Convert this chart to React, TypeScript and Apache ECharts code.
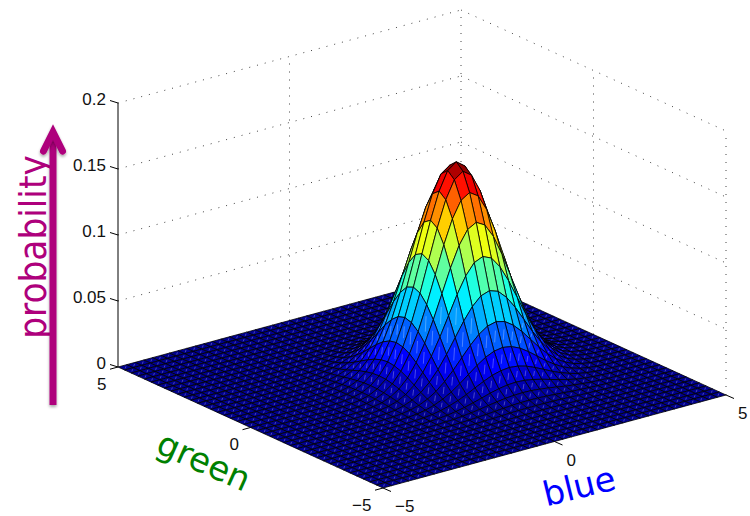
import React, { useEffect, useRef } from "react";
import * as echarts from "echarts";

// Axis ticks
const blueTicks = [-5, 0, 5];
const greenTicks = [-5, 0, 5];
const zTicks = [0, 0.05, 0.1, 0.15, 0.2];
const zTickLabels = ["0", "0.05", "0.1", "0.15", "0.2"];
const planeTickLabels = ["\u22125", "0", "5"];

// Mesh layout
const meshStart = -5;
const meshStep = 0.25;
const meshCells = 40;
const peakBlue = 1;
const peakGreen = 0;

// Height of the surface (in 1/10000) by number of mesh steps from the peak;
// the hill looks symmetric about its peak, so one quadrant is listed.
const hillQuadrant = [
  [1590, 1541, 1403, 1200, 964, 728, 516, 344, 215, 127, 70, 36, 18, 8, 3],
  [1541, 1494, 1360, 1163, 935, 706, 500, 333, 208, 123, 68, 35, 17, 8, 3],
  [1403, 1360, 1238, 1059, 851, 642, 455, 304, 190, 112, 62, 32, 16, 7, 3],
  [1200, 1163, 1059, 906, 728, 550, 390, 260, 162, 96, 53, 27, 14, 6, 2],
  [964, 935, 851, 728, 585, 442, 313, 209, 131, 77, 43, 22, 11, 5, 2],
  [728, 706, 642, 550, 442, 333, 236, 157, 98, 58, 32, 16, 8, 4, 2],
  [516, 500, 455, 390, 313, 236, 168, 112, 70, 41, 23, 12, 6, 3, 1],
  [344, 333, 304, 260, 209, 157, 112, 74, 47, 27, 15, 8, 4, 2, 1],
  [215, 208, 190, 162, 131, 98, 70, 47, 29, 17, 9, 5, 2, 1, 0],
  [127, 123, 112, 96, 77, 58, 41, 27, 17, 10, 6, 3, 1, 1, 0],
  [70, 68, 62, 53, 43, 32, 23, 15, 9, 6, 3, 2, 1, 0, 0],
  [36, 35, 32, 27, 22, 16, 12, 8, 5, 3, 2, 1, 0, 0, 0],
  [18, 17, 16, 14, 11, 8, 6, 4, 2, 1, 1, 0, 0, 0, 0],
  [8, 8, 7, 6, 5, 4, 3, 2, 1, 1, 0, 0, 0, 0, 0],
  [3, 3, 3, 2, 2, 2, 1, 1, 0, 0, 0, 0, 0, 0, 0],
];
const zMax = 0.159;
const fleckCeiling = 0.045;

// Orthographic view: screen position of (0,0,0) and of one unit along each axis
const view = { cx: 422, cy: 381, bx: 34.3, by: -9.3, gx: -26.5, gy: -12.1, zy: -1320 };
const project = (b: number, g: number, z: number): [number, number] => [
  view.cx + b * view.bx + g * view.gx,
  view.cy + b * view.by + g * view.gy + z * view.zy,
];

const meshValue = (i: number) => meshStart + i * meshStep;
const heightAt = (i: number, j: number) => {
  const di = Math.abs(Math.round((meshValue(i) - peakBlue) / meshStep));
  const dj = Math.abs(Math.round((meshValue(j) - peakGreen) / meshStep));
  if (di >= hillQuadrant.length || dj >= hillQuadrant.length) return 0;
  return hillQuadrant[dj][di] / 10000;
};

const clamp = (v: number) => Math.max(0, Math.min(1, v));
const jet = (t: number) => {
  const v = (Math.min(63, Math.floor(t * 64)) + 1) / 64;
  const r = clamp(1.5 - Math.abs(4 * v - 3));
  const g = clamp(1.5 - Math.abs(4 * v - 2));
  const b = clamp(1.5 - Math.abs(4 * v - 1));
  return `rgb(${Math.round(r * 255)},${Math.round(g * 255)},${Math.round(b * 255)})`;
};

// Cells back to front so that nearer cells cover farther ones
const cells: number[][] = [];
for (let i = meshCells - 1; i >= 0; i--) {
  for (let j = meshCells - 1; j >= 0; j--) {
    cells.push([i, j, heightAt(i, j), heightAt(i + 1, j), heightAt(i + 1, j + 1), heightAt(i, j + 1)]);
  }
}

const renderCell = (_: any, api: any) => {
  const i = api.value(0);
  const j = api.value(1);
  const corners: [number, number, number][] = [
    [i, j, api.value(2)],
    [i + 1, j, api.value(3)],
    [i + 1, j + 1, api.value(4)],
    [i, j + 1, api.value(5)],
  ];
  const pts = corners.map(([a, b, z]) => api.coord(project(meshValue(a), meshValue(b), z)));
  const mx = (pts[0][0] + pts[2][0]) / 2;
  const my = (pts[0][1] + pts[2][1]) / 2;
  const dx = (pts[2][0] - pts[0][0]) * 0.2;
  const dy = (pts[2][1] - pts[0][1]) * 0.2;
  const children: any[] = [
    {
      type: "polygon",
      silent: true,
      shape: { points: pts },
      style: { fill: jet(api.value(2) / zMax), stroke: "#000", lineWidth: 0.8 },
    },
  ];
  if (api.value(2) < fleckCeiling) {
    children.push({
      type: "line",
      silent: true,
      shape: { x1: mx - dx, y1: my - dy, x2: mx + dx, y2: my + dy },
      style: { stroke: "rgba(255,255,255,0.33)", lineWidth: 0.9 },
    });
  }
  return { type: "group", silent: true, children };
};

const bMin = blueTicks[0];
const bMax = blueTicks[blueTicks.length - 1];
const gMin = greenTicks[0];
const gMax = greenTicks[greenTicks.length - 1];
const zTop = zTicks[zTicks.length - 1];

const segment = (a: [number, number], b: [number, number], style: any) => ({
  type: "line",
  data: [a, b],
  symbol: "none",
  silent: true,
  clip: false,
  lineStyle: style,
  z: 1,
});

const dotted = { color: "#444", width: 1, type: [1, 7] };
const solid = { color: "#000", width: 1, type: "solid" };

const wallLines = [
  ...zTicks.slice(1).flatMap((z) => [
    segment(project(bMin, gMax, z), project(bMax, gMax, z), dotted),
    segment(project(bMax, gMax, z), project(bMax, gMin, z), dotted),
  ]),
  ...blueTicks.slice(1).map((b) => segment(project(b, gMax, 0), project(b, gMax, zTop), dotted)),
  ...greenTicks.slice(0, 2).map((g) => segment(project(bMax, g, 0), project(bMax, g, zTop), dotted)),
];

const axisLines = [
  segment(project(bMin, gMax, 0), project(bMin, gMax, zTop), solid),
  ...zTicks.map((z) => {
    const p = project(bMin, gMax, z);
    return segment(p, [p[0] - 8, p[1] - 2.5], solid);
  }),
  ...blueTicks.map((b) => {
    const p = project(b, gMin, 0);
    return segment(p, [p[0] + 8, p[1] + 3.5], solid);
  }),
  ...greenTicks.map((g) => {
    const p = project(bMin, g, 0);
    return segment(p, [p[0] - 8, p[1] + 2.2], solid);
  }),
].map((s) => ({ ...s, z: 3 }));

const tickFont = '17px "Liberation Sans", Arial, sans-serif';
const labelFont = '34px "DejaVu Sans", sans-serif';
const probabilityFont = '37px "DejaVu Sans", sans-serif';
const purple = "#AE007C";
const arrowShadow = { shadowBlur: 3, shadowOffsetY: 2, shadowColor: "rgba(0,0,0,0.35)" };

const tickText = (text: string, x: number, y: number, align: string) => ({
  type: "text",
  x,
  y,
  silent: true,
  style: { text, x: 0, y: 0, fill: "#111", font: tickFont, textAlign: align, textVerticalAlign: "middle" },
});

const graphics: any[] = [
  ...zTicks.map((z, k) => {
    const p = project(bMin, gMax, z);
    return tickText(zTickLabels[k], p[0] - 12, p[1] - 4, "right");
  }),
  ...greenTicks.map((g, k) => {
    const p = project(bMin, g, 0);
    return tickText(planeTickLabels[k], p[0] - 11.5, p[1] + 17, "right");
  }),
  ...blueTicks.map((b, k) => {
    const p = project(b, gMin, 0);
    return tickText(planeTickLabels[k], p[0] + 12, p[1] + 18.5, "left");
  }),
  {
    type: "text",
    x: 33,
    y: 247,
    rotation: Math.PI / 2,
    scaleX: 0.93,
    silent: true,
    style: { text: "probability", fill: purple, font: probabilityFont, textAlign: "center", textVerticalAlign: "middle" },
  },
  {
    type: "text",
    x: 204,
    y: 461,
    rotation: -0.42,
    silent: true,
    style: { text: "green", fill: "#008000", font: labelFont, textAlign: "center", textVerticalAlign: "middle" },
  },
  {
    type: "text",
    x: 579,
    y: 486,
    rotation: 0.24,
    silent: true,
    style: { text: "blue", fill: "#0000FF", font: labelFont, textAlign: "center", textVerticalAlign: "middle" },
  },
  {
    type: "rect",
    silent: true,
    z: 10,
    shape: { x: 49.5, y: 134, width: 7, height: 271 },
    style: { fill: purple, ...arrowShadow },
  },
  {
    type: "polyline",
    silent: true,
    z: 10,
    shape: { points: [[43.5, 151], [53, 132], [62.5, 151]] },
    style: { stroke: purple, lineWidth: 7, fill: "none", lineCap: "round", lineJoin: "miter", ...arrowShadow },
  },
];

export default function App() {
  const ref = useRef<HTMLDivElement>(null);
  useEffect(() => {
    if (!ref.current) return;
    const chart = echarts.init(ref.current, null, { renderer: "svg" });
    chart.setOption({
      animation: false,
      backgroundColor: "#fff",
      grid: { left: 0, right: 0, top: 0, bottom: 0 },
      xAxis: { type: "value", min: 0, max: 750, show: false },
      yAxis: { type: "value", min: 0, max: 516, inverse: true, show: false },
      graphic: graphics,
      series: [
        ...wallLines,
        {
          type: "custom",
          renderItem: renderCell,
          data: cells,
          clip: false,
          silent: true,
          z: 2,
          encode: { x: 0, y: 1 },
        },
        ...axisLines,
      ],
    });
    return () => chart.dispose();
  }, []);
  return <div ref={ref} style={{ position: "absolute", left: 0, top: 0, width: 750, height: 516 }} />;
}
